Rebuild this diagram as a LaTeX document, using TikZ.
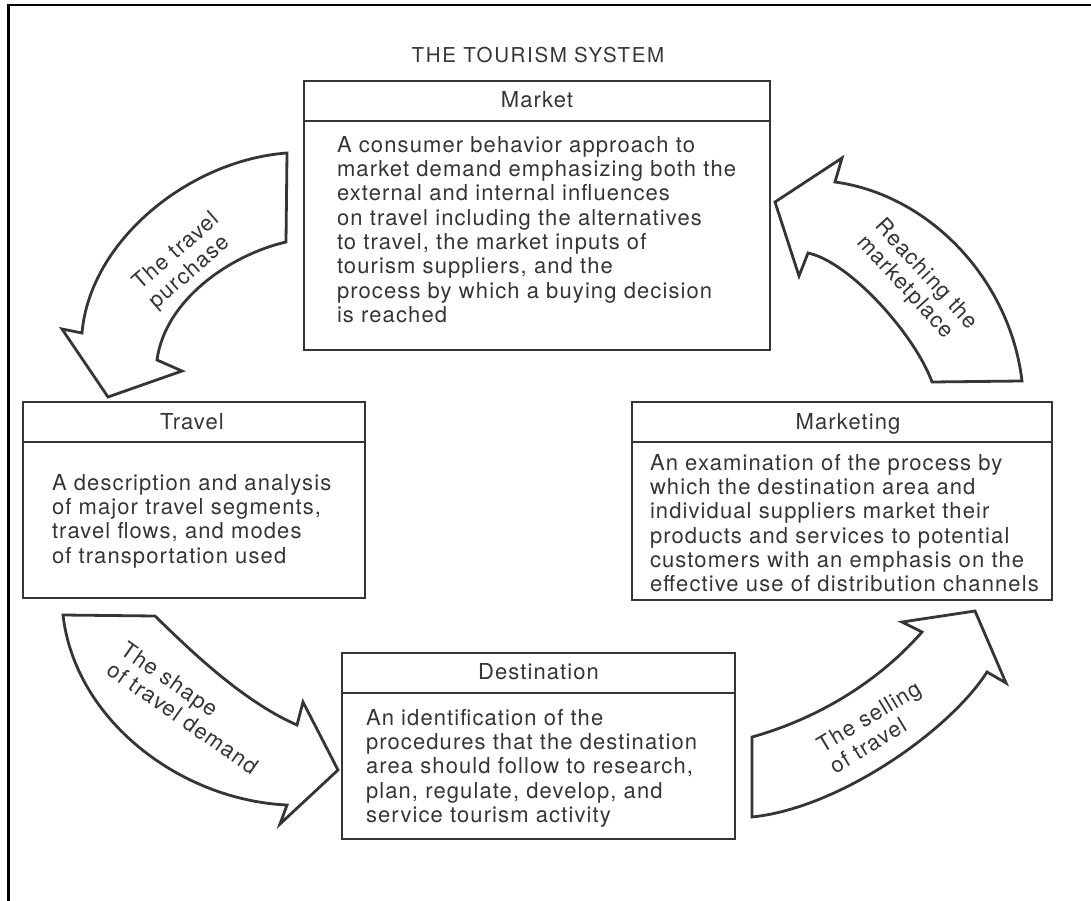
\documentclass[tikz,border=0pt]{standalone}
\usepackage{fontspec}
\setmainfont{TeX Gyre Heros}[LetterSpace=5]
\newfontfamily\titlefont{TeX Gyre Heros}[LetterSpace=8]
\definecolor{ink}{HTML}{353535}
\begin{document}
\begin{tikzpicture}[x=1pt,y=-1pt,
  every node/.style={inner sep=0pt, outer sep=0pt, text=ink, font=\fontsize{22}{24.3}\selectfont},
  box/.style={draw=ink, line width=1.6pt},
  boxline/.style={draw=ink, line width=1.6pt},
  body/.style={anchor=north west, align=left},
  bigarrow/.style={draw=ink, line width=2.8pt, fill=white, line join=miter},
  arrowtext/.style={align=left}]
\useasboundingbox (0,0) rectangle (1091,901);
% outer frame (top and left only)
\draw[line width=2.6pt, black] (8.5,901) -- (8.5,5) -- (1091,5);

\node[anchor=base, font=\titlefont\fontsize{20.5}{24}\selectfont] (title) at (538,62.7) {THE TOURISM SYSTEM};

% boxes
\node[box, minimum width=466pt, minimum height=269pt] (market) at (537,215.5) {};
\node[box, minimum width=342pt, minimum height=196pt] (travel) at (194,500) {};
\node[box, minimum width=420pt, minimum height=198pt] (marketing) at (842,501) {};
\node[box, minimum width=393pt, minimum height=186pt] (destination) at (538.5,746) {};

\foreach \b in {market,travel,marketing,destination}{
  \draw[boxline] ([yshift=-40pt]\b.north west) -- ([yshift=-40pt]\b.north east);
}

% titles
\node[anchor=base] (markett) at ([yshift=-27pt]market.north) {Market};
\node[anchor=base] (travelt) at ([yshift=-27pt,xshift=-2pt]travel.north) {Travel};
\node[anchor=base] (marketingt) at ([yshift=-27pt,xshift=6pt]marketing.north) {Marketing};
\node[anchor=base] (destinationt) at ([yshift=-26pt]destination.north) {Destination};

% body texts
\node[body] (marketb) at ([xshift=33pt,yshift=-55.2pt]market.north west)
 {A consumer behavior approach to\\
  market demand emphasizing both the\\
  external and internal influences\\
  on travel including the alternatives\\
  to travel, the market inputs of\\
  tourism suppliers, and the\\
  process by which a buying decision\\
  is reached};
\node[body] (travelb) at ([xshift=29pt,yshift=-72.2pt]travel.north west)
 {A description and analysis\\
  of major travel segments,\\
  travel flows, and modes\\
  of transportation used};
\node[body] (marketingb) at ([xshift=18pt,yshift=-52.2pt]marketing.north west)
 {An examination of the process by\\
  which the destination area and\\
  individual suppliers market their\\
  products and services to potential\\
  customers with an emphasis on the\\
  effective use of distribution channels};
\node[body] (destinationb) at ([xshift=24pt,yshift=-56.2pt]destination.north west)
 {An identification of the\\
  procedures that the destination\\
  area should follow to research,\\
  plan, regulate, develop, and\\
  service tourism activity};

% curved block arrows
% Market -> Travel : The travel purchase
\draw[bigarrow] (287,153) .. controls (190,160) and (90,240) .. (82,333)
  -- (62,329) -- (108,397) -- (182,371) -- (157,360)
  .. controls (165,300) and (230,255) .. (286,242) -- cycle;
% Marketing -> Market : Reaching the marketplace
\draw[bigarrow] (1022,381) .. controls (1010,280) and (930,195) .. (835,182)
  -- (842,158) -- (775,202) -- (799,276) -- (808,253)
  .. controls (850,262) and (915,335) .. (932,382) -- cycle;
% Travel -> Destination : The shape of travel demand
\draw[bigarrow] (63,615) .. controls (75,720) and (180,800) .. (287,805)
  -- (280,824) -- (338,770) -- (303,702) -- (297,725)
  .. controls (240,700) and (185,645) .. (155,616) -- cycle;
% Destination -> Marketing : The selling of travel
\draw[bigarrow] (752,737) .. controls (820,718) and (880,680) .. (922,632)
  -- (902,622) -- (975,611) -- (1006,683) -- (987,672)
  .. controls (950,730) and (840,808) .. (752,817) -- cycle;

% arrow labels
\node[arrowtext, rotate=41] (l1) at (185,261) {The travel\\purchase};
\node[arrowtext, rotate=-47.5] (l2) at (917,283) {Reaching the\\marketplace};
\node[arrowtext, rotate=-35] (l3) at (190,708) {The shape\\of travel demand};
\node[arrowtext, rotate=31] (l4) at (875,727) {The selling\\of travel};
\end{tikzpicture}
\end{document}
